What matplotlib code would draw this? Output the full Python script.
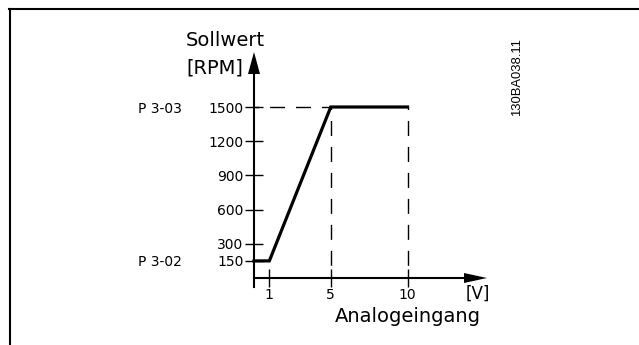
import numpy as np
import matplotlib
matplotlib.use("Agg")
import matplotlib.pyplot as plt
from matplotlib.lines import Line2D

plt.rcParams['font.family'] = 'DejaVu Sans'
plt.rcParams['lines.scale_dashes'] = False

# reference curve: analog input [V] -> reference [RPM]
volts = [0, 1, 5, 10]
rpm = [150, 150, 1500, 1500]

xticks = [1, 5, 10]
yticks = [150, 300, 600, 900, 1200, 1500]
p_labels = {"P 3-03": 1500, "P 3-02": 150}
v_ramp_end = 5
v_max = 10

W, H = 639, 345
fig = plt.figure(figsize=(W / 100, H / 100), dpi=100)

# plot region in pixels (left, right, bottom, top from image top)
x0, x1 = 254, 407.5
y0, y1 = 278, 107
ax = fig.add_axes([x0 / W, 1 - y0 / H, (x1 - x0) / W, (y0 - y1) / H])
ax.set_xlim(0, 10)
ax.set_ylim(0, 1500)
ax.patch.set_visible(False)

sx = (x1 - x0) / 10.0      # px per volt
sy = (y0 - y1) / 1500.0    # px per rpm

# axes with arrow heads
for s in ['top', 'right']:
    ax.spines[s].set_visible(False)
ax.spines['left'].set_linewidth(1.5)
ax.spines['bottom'].set_linewidth(1.5)
ax.spines['left'].set_bounds(-9 / sy, (y0 - 74) / sy)
ax.spines['bottom'].set_bounds(0, (464 - x0) / sx)
ytip, ybase, hw = (y0 - 52) / sy, (y0 - 74) / sy, 6 / sx
ax.fill([-hw, hw, 0], [ybase, ybase, ytip], color='k', clip_on=False, lw=0)
xtip, xbase, hh = (487 - x0) / sx, (464 - x0) / sx, 5 / sy
ax.fill([xbase, xbase, xtip], [-hh, hh, 0], color='k', clip_on=False, lw=0)

ax.set_xticks(xticks)
ax.set_yticks(yticks)
ax.tick_params(direction='inout', length=13, width=1, labelsize=10, colors='k')
ax.tick_params(axis='y', pad=1)
ax.tick_params(axis='x', pad=0.5)

# dashed guides
dash = (7.5, (10.8, 7.9))
ax.plot([0, v_ramp_end], [rpm[-1], rpm[-1]], color='k', lw=1, ls=dash, clip_on=False)
for v in [v_ramp_end, v_max]:
    ax.plot([v, v], [rpm[-1], 0], color='k', lw=1, ls=(9, (10.8, 7.9)), clip_on=False)

ax.plot(volts, rpm, color='k', lw=2.3, solid_joinstyle='miter', clip_on=False)

for txt, val in p_labels.items():
    ax.annotate(txt, xy=(0, val), xytext=(-(x0 - 160) / 1.389, 0),
                textcoords='offset points', ha='center', va='center_baseline',
                fontsize=10)

fig.text(186 / W, 1 - 46 / H, "Sollwert", fontsize=14, ha='left', va='baseline')
fig.text(186 / W, 1 - 74 / H, "[RPM]", fontsize=14, ha='left', va='baseline')
fig.text(335 / W, 1 - 322.5 / H, "Analogeingang", fontsize=14, ha='left', va='baseline')
fig.text(478 / W, 1 - 299 / H, "[V]", fontsize=12, ha='center', va='baseline')
fig.text(517 / W, 1 - 77.5 / H, "130BA038.11", fontsize=9.4, family='Liberation Sans',
         rotation=90, ha='center', va='center')

# frame
fig.add_artist(Line2D([9 / W, 1], [1 - 9 / H, 1 - 9 / H], color='k', lw=1.5,
                      transform=fig.transFigure))
fig.add_artist(Line2D([10 / W, 10 / W], [1 - 8.5 / H, 0], color='k', lw=1.5,
                      transform=fig.transFigure))

fig.savefig("out.png", dpi=100)
